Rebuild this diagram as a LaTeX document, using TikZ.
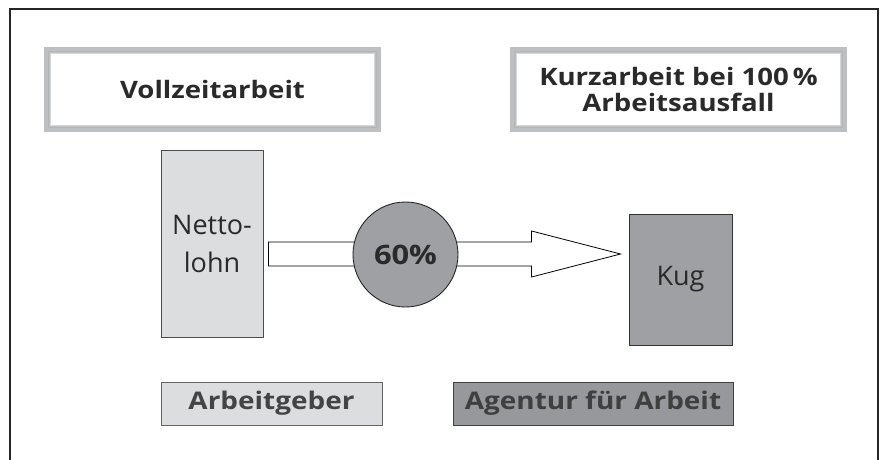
\documentclass[tikz,border=0pt]{standalone}
\usepackage{fontspec}
\setmainfont[BoldFeatures={FakeStretch=1.15}]{Open Sans}
\usetikzlibrary{calc}
\definecolor{bandgrey}{HTML}{BEBFC1}
\definecolor{thingrey}{HTML}{B5B6B8}
\definecolor{paleline}{HTML}{D6D7D9}
\definecolor{lightfill}{HTML}{DCDDDF}
\definecolor{midfill}{HTML}{9FA0A4}
\definecolor{darktext}{HTML}{2A2A2A}
\definecolor{labtext}{HTML}{444444}
\tikzset{
  headbox/.style={draw=bandgrey, line width=6pt, fill=white, inner sep=0pt,
    minimum width=331pt, minimum height=79pt, align=center,
    font=\fontsize{24}{26}\selectfont\bfseries, text=darktext},
  innerline/.style={draw=thingrey, line width=1.2pt},
  paleinner/.style={draw=paleline, line width=0.7pt},
  barbox/.style={draw=#1, line width=0.9pt, inner sep=0pt, align=center},
  labbox/.style={draw=#1, line width=1pt, inner sep=0pt, minimum height=43pt,
    font=\fontsize{24.3}{28}\selectfont\bfseries},
  fatarrow/.style={draw=black, line width=0.8pt, fill=white, line join=miter},
}
\begin{document}
\begin{tikzpicture}[x=1pt,y=-1pt]
\useasboundingbox (0,0) rectangle (881,460);
% frame
\draw[line width=1.4pt, color=black!85] (10,460) -- (10,9) -- (878,9) -- (878,460);
% header boxes
\node[headbox] (h1) at (212.5,89.5) {Vollzeitarbeit};
\node[headbox] (h2) at (678.5,89.5) {Kurzarbeit bei 100\,\%\\Arbeitsausfall};
\foreach \h in {h1,h2}{
  \draw[innerline] ($(\h.south west)+(4.3pt,4.3pt)$) rectangle ($(\h.north east)+(-4.3pt,-4.3pt)$);
  \draw[paleinner] ($(\h.south west)+(6.5pt,6.5pt)$) rectangle ($(\h.north east)+(-6.5pt,-6.5pt)$);
}
% Nettolohn
\node[barbox=black!70, fill=lightfill, minimum width=102pt, minimum height=187pt,
  font=\fontsize{27}{38}\selectfont, text=darktext] (netto) at (212,243.5) {Netto-\\lohn};
% Kug
\node[barbox=black!80, fill=midfill, minimum width=103pt, minimum height=131pt,
  font=\fontsize{27}{32}\selectfont, text=darktext] (kug) at (680.5,279.5) {Kug};
% arrow
\coordinate (astart) at ($(netto.east)+(5,10.5)$);
\coordinate (atip) at ($(kug.west)+(-8,-25.5)$);
\draw[fatarrow] ($(astart)+(0,-12)$) -- ($(atip)+(-89,-12)$) -- ($(atip)+(-89,-23)$)
  -- (atip) -- ($(atip)+(-89,23)$) -- ($(atip)+(-89,12)$) -- ($(astart)+(0,12)$) -- cycle;
% circle
\node[circle, draw=black!85, line width=0.9pt, fill=midfill, minimum size=105pt, inner sep=0pt,
  font=\fontsize{26.8}{32}\selectfont\bfseries, text=darktext] (pct) at (405.5,254.5) {60\%};
% bottom labels
\node[labbox=black!60, fill=lightfill, minimum width=221pt, text=labtext] (ag) at (271.5,403.5) {Arbeitgeber};
\node[labbox=black!75, fill=midfill!95!black, minimum width=280pt, text=darktext!90] (afa) at (593,403.5) {Agentur für Arbeit};
\end{tikzpicture}
\end{document}
